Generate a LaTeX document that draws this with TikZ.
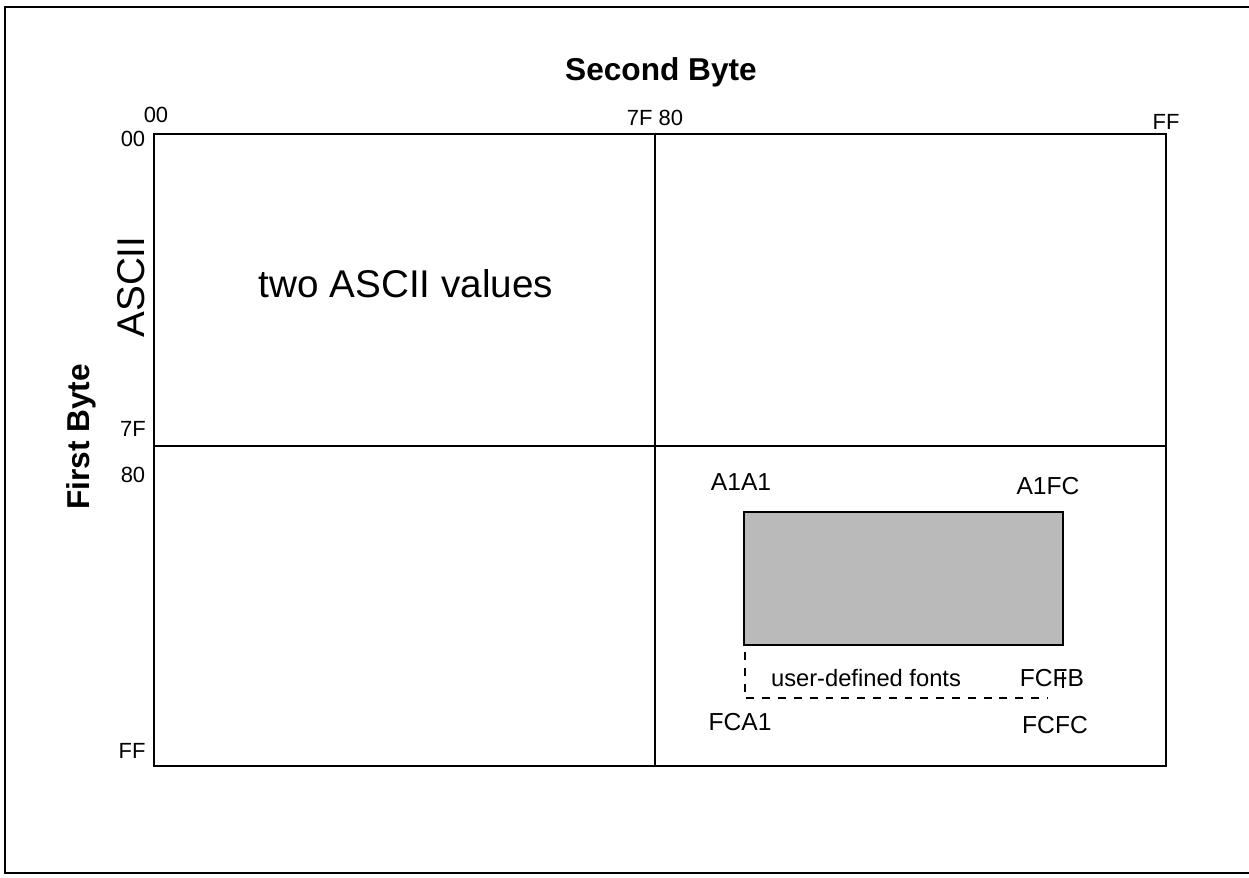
\documentclass[tikz,border=0pt]{standalone}
\usepackage{fontspec}
\setmainfont{Liberation Sans}
\begin{document}
\begin{tikzpicture}[x=0.02cm,y=-0.02cm,
  frameline/.style={line width=1.4pt},
  gridline/.style={line width=1.5pt},
  axistitle/.style={font=\fontsize{18}{20}\selectfont\bfseries, inner sep=0pt},
  bigtext/.style={font=\fontsize{22}{24}\selectfont, inner sep=0pt},
  ticklabel/.style={font=\fontsize{12.5}{14}\selectfont, inner sep=0pt},
  codelabel/.style={font=\fontsize{14}{16}\selectfont, inner sep=0pt},
  fontarea/.style={draw, line width=1.5pt, fill=black!27},
  dashedline/.style={line width=1.2pt, dash pattern=on 4.5pt off 4.5pt}]
\useasboundingbox (0,0) rectangle (1249,877);

% page frame (open on the right)
\draw[frameline] (1249,7) -- (5,7) -- (5,873) -- (1249,873);

% code space grid
\coordinate (tl) at (154,134);
\coordinate (br) at (1166,766);
\draw[gridline] (tl) rectangle (br);
\coordinate (vt) at (655,134);
\coordinate (vb) at (655,766);
\coordinate (hl) at (154,446);
\coordinate (hr) at (1166,446);
\draw[gridline] (vt) -- (vb);
\draw[gridline] (hl) -- (hr);

% axis titles
\node[axistitle] (second) at (661,72) {Second Byte};
\node[axistitle, rotate=90] (first) at (81,437) {First Byte};

% second byte ticks
\node[ticklabel] (c00) at (156,115) {00};
\node[ticklabel] (c7f80) at (655,118) {7F 80};
\node[ticklabel] (cff) at (1166,122) {FF};

% first byte ticks
\node[ticklabel] (r00) at (133,139) {00};
\node[ticklabel] (r7f) at (133,429) {7F};
\node[ticklabel] (r80) at (133,475) {80};
\node[ticklabel] (rff) at (132,751) {FF};

% region texts
\node[bigtext, rotate=90] (ascii) at (131,287) {ASCII};
\node[bigtext] (twoascii) at (406,284) {two ASCII values};

% user-defined font area
\coordinate (dtop) at (745,652);
\coordinate (dcorner) at (745,698);
\coordinate (dend) at (1048,698);
\draw[dashedline] (dtop) -- (dcorner) -- (dend);
\coordinate (tickb) at (1063,688);
\coordinate (tickt) at (1063,672);
\draw[line width=1.2pt] (tickb) -- (tickt);
\draw[fontarea] (744,512) rectangle (1063,645);
\node[codelabel] (a1a1) at (741,482) {A1A1};
\node[codelabel] (a1fc) at (1048,486) {A1FC};
\node[codelabel] (fcfb) at (1052,678) {FCFB};
\node[codelabel] (fca1) at (740,722) {FCA1};
\node[codelabel] (fcfc) at (1055,725) {FCFC};
\node[font=\fontsize{13.5}{15}\selectfont, inner sep=0pt] (udf) at (866,678) {user-defined fonts};
\end{tikzpicture}
\end{document}
